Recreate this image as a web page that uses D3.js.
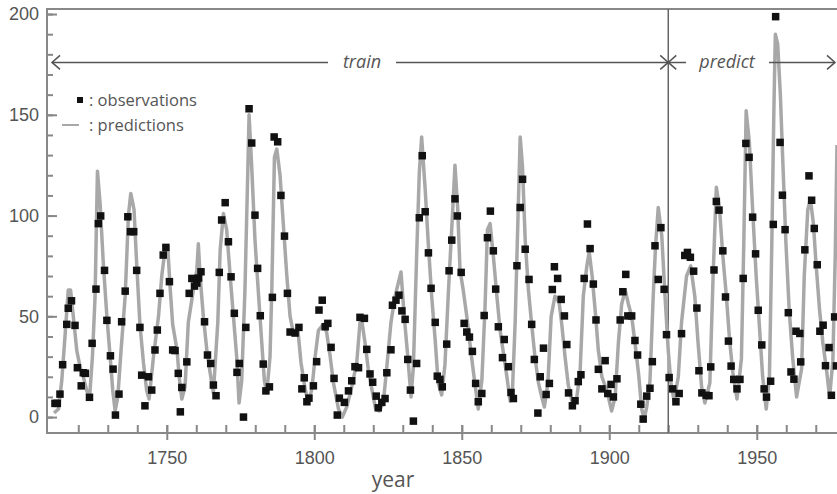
<!DOCTYPE html>
<html>
<head>
<meta charset="utf-8">
<script src="https://cdn.jsdelivr.net/npm/d3@7"></script>
<style>
  body { margin: 0; background: #fff; }
  svg { display: block; font-family: 'Open Sans', sans-serif; }
  .tick text { fill: #555; font-size: 18px; }
  .tick line { stroke: #888; stroke-width: 2; }
</style>
</head>
<body>
<svg width="837" height="494"></svg>
<script>
// observations (black squares)
var obsYear = [1712.1,1712.9,1713.8,1714.7,1716.1,1716.6,1717.7,1718.9,1719.7,1721.0,1721.7,1722.4,1723.8,1724.7,1726.0,1726.8,1727.6,1728.9,1729.7,1730.9,
  1731.8,1732.6,1733.8,1734.7,1735.9,1736.8,1737.7,1738.8,1739.8,1740.9,1741.5,1742.6,1743.8,1744.9,1746.0,1746.8,1747.7,1748.8,1749.7,1750.9,
  1752.0,1752.8,1753.9,1754.6,1755.1,1756.8,1757.6,1758.5,1759.4,1760.2,1760.8,1761.6,1762.8,1763.8,1764.9,1765.8,1766.7,1767.8,1768.6,1769.8,
  1770.9,1771.8,1772.9,1773.8,1774.6,1776.0,1776.8,1777.9,1778.8,1779.9,1780.8,1781.7,1782.7,1783.6,1784.8,1785.8,1786.4,1787.6,1788.7,1789.9,
  1790.9,1791.8,1793.5,1794.8,1795.8,1796.6,1797.5,1798.2,1799.7,1800.8,1801.6,1802.7,1803.7,1804.6,1805.7,1806.7,1807.8,1808.5,1810.2,1811.6,
  1812.7,1813.8,1815.0,1815.5,1817.0,1817.8,1818.9,1819.8,1821.0,1821.7,1822.9,1824.0,1824.6,1826.0,1826.5,1827.7,1828.7,1829.7,1830.8,1831.7,
  1832.6,1833.6,1834.7,1835.6,1836.6,1837.6,1838.7,1839.6,1841.0,1841.7,1842.6,1843.4,1844.9,1845.7,1846.6,1847.7,1848.5,1849.8,1850.8,1851.7,
  1852.6,1853.6,1854.7,1855.6,1856.8,1857.6,1858.7,1859.7,1860.7,1861.5,1862.4,1863.8,1864.4,1865.8,1866.7,1867.5,1868.7,1869.8,1870.6,1871.5,
  1872.8,1873.7,1874.6,1875.8,1876.6,1877.7,1878.6,1879.7,1880.7,1881.4,1882.5,1883.7,1884.8,1885.6,1886.2,1887.5,1888.4,1889.5,1890.4,1891.5,
  1892.6,1893.5,1894.6,1895.5,1896.3,1897.5,1898.6,1899.5,1900.6,1901.4,1902.6,1903.7,1904.6,1905.6,1906.3,1907.6,1908.7,1909.6,1910.7,1911.5,
  1912.7,1913.8,1914.6,1915.5,1916.6,1917.5,1918.6,1919.4,1920.3,1921.5,1922.6,1923.7,1924.5,1925.6,1926.5,1927.5,1928.6,1929.7,1930.4,1931.4,
  1932.9,1933.8,1934.4,1935.5,1936.3,1937.2,1938.5,1939.4,1940.4,1941.3,1942.2,1943.3,1944.3,1945.4,1946.3,1947.4,1948.6,1949.6,1950.5,1951.7,
  1952.5,1953.3,1954.7,1955.6,1956.4,1957.9,1958.7,1959.6,1960.7,1961.6,1962.6,1963.3,1964.6,1964.9,1966.3,1967.7,1968.6,1969.5,1970.5,1971.4,
  1972.5,1973.3,1974.5,1975.3,1976.4,1977.0];
var obsValue = [6.8,6.8,11.4,26,46,54,57.7,45.5,24.5,15.5,22,21.7,9.8,36.6,63.5,96,99.8,72.8,48,30.4,
  23.8,1,11.4,47.3,62.5,99.4,92,92,72.8,44.5,20.8,5.6,20,13.4,33.3,43.2,61.4,80.4,84.2,67.2,
  33.3,33,21.7,2.6,14.7,27.4,61.4,68.8,65,66.5,69,72.1,47.3,30.8,26.6,15.9,10.6,71.8,97.8,106.4,
  87,69.6,51.5,22.2,26.6,0,44.5,153,136,100.2,73.8,50.3,26.3,13,15,59.4,139,136.6,110,89.8,
  61.4,42.2,41.7,44.5,14,19.5,7.6,9.4,15.5,27.5,53.1,58,44.8,46.5,34.6,19.2,1,9.4,7.3,13,
  18,25,24.5,49.5,49,33.6,21.4,17.3,10.4,4.6,7.3,9.2,22,33.4,55.5,58,60.5,52.7,48.5,28.6,
  13.4,-2,26.6,98.9,129.7,101.9,81.5,63.9,47,20.3,18.7,15,36.2,72.6,87.8,108.3,99.8,71.8,46.5,42.2,
  39.7,32.6,16.7,7.6,11.7,50.4,89,102.2,82.5,63.5,44.8,29.5,38.5,25,12.2,9.2,75.1,104,118,83.3,
  68.3,46,28.6,2,20,34.2,11.2,16.7,63.3,74.6,68.8,58.4,50.2,36,12,5.6,8.1,17.6,21,68.8,
  95.8,83.6,66,48.2,23.7,14,28,11.7,16.2,10,19,48.2,62.2,70.8,50.2,50.2,38,30.8,6.4,-1,
  10.4,14.3,27.5,85,68.3,94,63.4,40.9,19.6,14,7.6,11.7,41.4,80.2,81.7,79.3,72.4,54.1,23,12,
  10.8,10.6,24.9,73,107,102.7,82.5,59.6,37.7,25.3,18.7,14,18.7,68.8,135.8,128.9,99.2,81,53,35.8,
  14,9.9,17.8,95.6,198.7,136.3,110.1,93,51.8,22.4,18.8,42.6,41.5,27.4,83,119.7,107.6,93.6,75.6,42.6,
  45.6,25.5,34.5,10.8,49.7,25.4];

// predictions (grey line)
var predYear = [1711.8,1713.3,1714.4,1715.5,1716.6,1717.4,1718.6,1719.5,1720.6,1721.7,1722.9,1723.8,1724.8,1725.7,1726.5,1727.4,1728.5,1729.7,1730.8,1731.7,
  1732.5,1733.4,1734.5,1735.9,1737.0,1737.8,1738.9,1739.8,1740.9,1742.1,1743.2,1744.0,1745.5,1747.2,1748.3,1749.4,1750.3,1751.2,1752.0,1753.5,
  1754.2,1755.1,1756.2,1757.3,1759.0,1760.2,1760.7,1761.3,1762.4,1763.6,1764.7,1765.8,1767.3,1768.1,1769.2,1770.3,1771.5,1772.6,1773.7,1774.5,
  1775.4,1776.5,1777.5,1777.9,1778.8,1779.9,1781.0,1782.2,1783.1,1783.9,1785.0,1785.6,1786.5,1787.3,1788.4,1789.5,1790.7,1791.8,1792.9,1794.4,
  1795.5,1796.9,1798.0,1799.2,1800.3,1801.4,1803.1,1804.2,1805.4,1806.5,1808.2,1809.5,1811.0,1812.7,1814.4,1815.5,1816.1,1817.2,1818.3,1819.5,
  1820.8,1822.0,1823.4,1824.6,1826.0,1827.4,1829.4,1830.5,1831.7,1832.8,1833.6,1834.7,1835.6,1836.4,1837.6,1838.7,1839.8,1841.0,1842.0,1843.2,
  1844.3,1845.5,1846.8,1847.7,1848.6,1849.4,1850.5,1851.7,1852.8,1853.9,1855.6,1856.8,1857.9,1858.7,1859.6,1860.7,1861.9,1863.0,1864.1,1865.3,
  1866.4,1867.2,1868.1,1869.0,1869.8,1870.6,1871.5,1872.6,1873.7,1874.8,1876.0,1877.1,1878.0,1879.2,1880.3,1881.6,1883.0,1883.9,1885.0,1886.1,
  1887.8,1889.0,1890.1,1891.2,1892.4,1893.2,1894.2,1895.4,1896.3,1897.5,1899.2,1900.8,1902.0,1903.1,1904.2,1905.4,1906.5,1907.6,1908.7,1909.9,
  1911.0,1911.8,1912.7,1913.8,1914.9,1915.7,1916.6,1917.8,1918.9,1920.0,1920.9,1922.0,1923.4,1924.5,1926.2,1927.6,1929.0,1930.1,1931.3,1932.4,
  1934.1,1935.2,1936.3,1937.4,1938.5,1939.7,1940.8,1941.9,1943.3,1944.8,1945.6,1946.4,1947.5,1948.6,1949.8,1950.9,1952.0,1953.2,1954.3,1955.1,
  1955.8,1956.3,1957.1,1958.0,1958.8,1959.9,1961.0,1962.2,1963.5,1965.2,1966.1,1967.3,1968.2,1969.2,1970.1,1971.3,1972.4,1973.6,1974.7,1975.8,
  1976.6,1977.2];
var predValue = [2,4,18,40,63,63,46,33,25,20,13,9,30,60,122,106,76,50,30,13,
  3,10,33,60,100,111,103,76,46,27,13,9,30,50,70,83,85,63,46,33,
  20,9,15,47,63,73,86,70,50,33,22,12,47,83,101,93,70,50,30,7,
  18,63,124,150,124,88,63,37,18,12,30,63,129,133,120,96,70,50,42,44,
  27,14,7,14,30,43,46,42,30,17,4,0,5,15,27,47,48,37,24,14,
  4,3,7,25,47,60,72,50,30,10,25,80,121,139,113,85,60,38,17,11,
  26,63,99,125,104,73,63,50,36,23,4,18,55,93,96,80,60,43,32,20,
  8,14,47,96,139,124,88,63,46,30,17,10,5,17,50,60,57,46,30,16,
  5,10,22,60,75,82,70,50,33,20,13,3,10,37,56,63,56,50,37,22,
  4,-1,5,18,60,85,104,90,60,33,17,8,20,47,70,75,60,37,15,7,
  17,70,114,103,80,60,38,22,9,29,86,152,136,103,70,45,20,4,20,86,
  152,190,185,160,128,86,53,29,10,24,70,103,108,96,76,53,37,24,10,28,
  80,135];

var yMajor = [0, 50, 100, 150, 200];
var xMajor = [1750, 1800, 1850, 1900, 1950];
var splitYear = 1920;
var arrowLevel = 176;

var svg = d3.select('svg'),
    plotL = 47, plotR = 837, plotT = 9, plotB = 433;

var x = d3.scaleLinear().domain([1709.4, 1977.2]).range([plotL, plotR]);
var y = d3.scaleLinear().domain([-7.9, 202.5]).range([plotB, plotT]);

var obs = obsYear.map((d, i) => ({year: d, value: obsValue[i]}));
var pred = predYear.map((d, i) => ({year: d, value: predValue[i]}));

svg.append('clipPath').attr('id', 'plot')
  .append('rect').attr('x', plotL).attr('y', plotT).attr('width', plotR - plotL).attr('height', plotB - plotT);

// y axis: minor + major ticks pointing inward
svg.append('g')
  .attr('transform', `translate(${plotL},0)`)
  .call(d3.axisLeft(y).tickValues(d3.range(0, 201, 10)).tickSize(-6).tickFormat(''))
  .call(g => g.select('.domain').remove());
svg.append('g')
  .attr('transform', `translate(${plotL},0)`)
  .call(d3.axisLeft(y).tickValues(yMajor).tickSize(-10).tickPadding(8))
  .call(g => g.select('.domain').remove());

// x axis
svg.append('g')
  .attr('transform', `translate(0,${plotB})`)
  .call(d3.axisBottom(x).tickValues(d3.range(1720, 1980, 10)).tickSize(-8).tickFormat(''))
  .call(g => g.select('.domain').remove());
var xAx = svg.append('g')
  .attr('transform', `translate(0,${plotB})`)
  .call(d3.axisBottom(x).tickValues(xMajor).tickSize(7).tickPadding(11).tickFormat(d3.format('d')))
  .call(g => g.select('.domain').remove());
xAx.selectAll('.tick').append('line').attr('y1', 0).attr('y2', -8);

// frame
svg.append('path')
  .attr('d', `M${plotR},${plotT}H${plotL}V${plotB}H${plotR}`)
  .attr('fill', 'none').attr('stroke', '#888').attr('stroke-width', 2);

// split line
svg.append('line')
  .attr('x1', x(splitYear)).attr('x2', x(splitYear))
  .attr('y1', plotT).attr('y2', plotB)
  .attr('stroke', '#666').attr('stroke-width', 1.5);

// predictions
var line = d3.line().x(d => x(d.year)).y(d => y(d.value));
svg.append('path')
  .datum(pred)
  .attr('clip-path', 'url(#plot)')
  .attr('fill', 'none')
  .attr('stroke', '#a8a8a8')
  .attr('stroke-width', 3.5)
  .attr('stroke-linejoin', 'round')
  .attr('d', line);

// observations
svg.append('g').attr('clip-path', 'url(#plot)')
  .selectAll('rect').data(obs).enter().append('rect')
  .attr('x', d => x(d.year) - 3.75)
  .attr('y', d => y(d.value) - 3.75)
  .attr('width', 7.5).attr('height', 7.5)
  .attr('fill', '#111');

// train / predict arrows
var ay = y(arrowLevel), xs = x(splitYear), x0 = plotL + 5, x1 = plotR - 2;
var ann = svg.append('g').attr('stroke', '#555').attr('stroke-width', 1.5).attr('fill', 'none');
ann.append('path').attr('d', `M${x0},${ay}H328M396,${ay}H${xs}M${xs},${ay}H686M769,${ay}H${x1}`);
ann.append('path').attr('d', `M${x0 + 8},${ay - 7}L${x0},${ay}L${x0 + 8},${ay + 7}`);
ann.append('path').attr('d', `M${xs - 8},${ay - 7}L${xs},${ay}L${xs - 8},${ay + 7}`);
ann.append('path').attr('d', `M${xs + 8},${ay - 7}L${xs},${ay}L${xs + 8},${ay + 7}`);
ann.append('path').attr('d', `M${x1 - 8},${ay - 7}L${x1},${ay}L${x1 - 8},${ay + 7}`);

svg.append('text').attr('x', 362).attr('y', ay + 6)
  .attr('text-anchor', 'middle').attr('font-style', 'italic')
  .attr('font-size', 18).attr('fill', '#555').text('train');
svg.append('text').attr('x', 727).attr('y', ay + 6)
  .attr('text-anchor', 'middle').attr('font-style', 'italic')
  .attr('font-size', 18).attr('fill', '#555').text('predict');

// legend
svg.append('rect').attr('x', 77).attr('y', 97).attr('width', 6).attr('height', 6).attr('fill', '#111');
svg.append('text').attr('x', 89).attr('y', 106).attr('font-size', 16.5).attr('fill', '#555').text(': observations');
svg.append('line').attr('x1', 62).attr('x2', 79).attr('y1', 125).attr('y2', 125)
  .attr('stroke', '#a8a8a8').attr('stroke-width', 2);
svg.append('text').attr('x', 89).attr('y', 131).attr('font-size', 16.5).attr('fill', '#555').text(': predictions');

// x label
svg.append('text').attr('x', 393).attr('y', 487)
  .attr('text-anchor', 'middle').attr('font-size', 21).attr('fill', '#555').text('year');
</script>
</body>
</html>
